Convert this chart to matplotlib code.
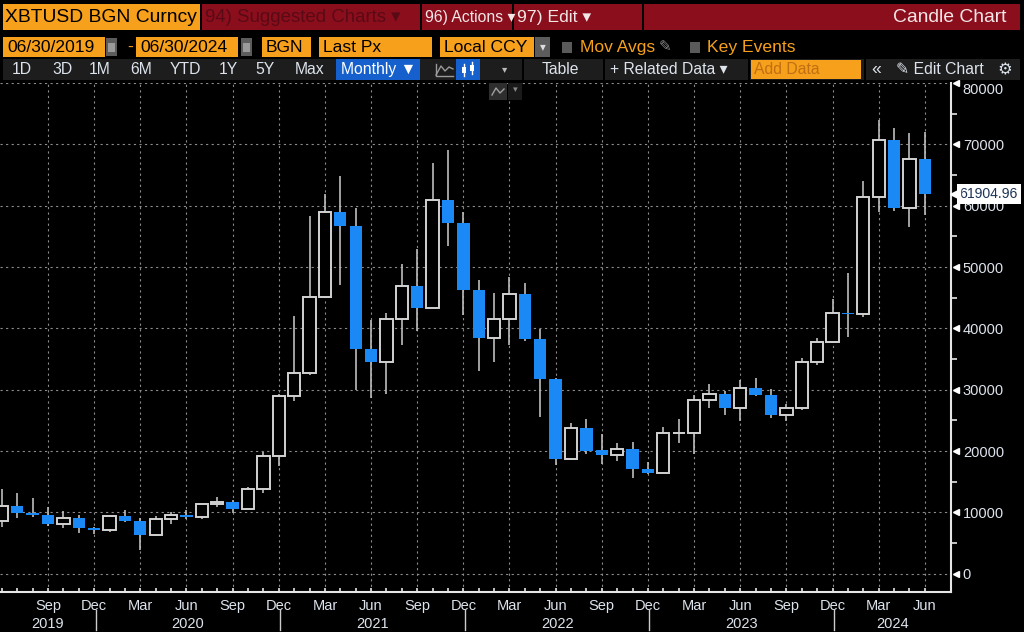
import matplotlib
matplotlib.use('Agg')
import matplotlib.pyplot as plt
import matplotlib.transforms as mtransforms
from matplotlib import font_manager
from matplotlib.patches import Rectangle
from matplotlib.lines import Line2D
import numpy as np
import pandas as pd

# monthly candles, XBTUSD BGN Curncy, 06/2019 - 06/2024
months = pd.period_range('2019-06', '2024-06', freq='M')
opens = [8600, 11100, 9950, 9550, 8050, 9170, 7450, 7100, 9380, 8650, 6300,
         8850, 9550, 9200, 11350, 11700, 10600, 13800, 19250, 28950, 32650,
         45150, 58900, 56650, 36650, 34500, 41450, 46950, 43400, 61000, 57100,
         46200, 38400, 41600, 45650, 38200, 31700, 18700, 23750, 20150, 19300,
         20400, 17000, 16450, 22900, 22950, 28400, 29250, 27050, 30300, 29150,
         25950, 27050, 34550, 37750, 42550, 42300, 61350, 70700, 59700, 67550]
highs = [13780, 13180, 12300, 10900, 10300, 9540, 7700, 9580, 10470, 9150, 9400,
         10080, 10400, 11400, 12450, 12100, 14100, 19850, 29300, 42050, 58300,
         61900, 64900, 59550, 41350, 42450, 50450, 52900, 67000, 69000, 59000,
         47900, 45700, 48400, 47350, 39850, 31950, 24650, 25200, 22850, 21250,
         21500, 18250, 23950, 25150, 29150, 31000, 29800, 31650, 31850, 30200,
         27750, 35100, 38450, 44850, 49000, 64050, 73950, 72600, 71900, 71950]
lows = [7580, 9100, 9260, 7750, 7400, 6660, 6440, 6870, 8450, 3830, 6150,
        8190, 9000, 8950, 10950, 9850, 10400, 13200, 17550, 28150, 32350,
        45000, 47050, 29900, 28600, 29300, 37300, 39600, 43300, 53400, 42150,
        33100, 34450, 37250, 37950, 25500, 17700, 18600, 19600, 17950, 18350,
        15550, 16300, 16450, 21350, 19500, 27050, 25950, 24850, 28950, 25400,
        24850, 26650, 34100, 37600, 38550, 41900, 59000, 59150, 56550, 58450]
closes = [11100, 9950, 9550, 8050, 9170, 7450, 7100, 9380, 8650, 6300, 8850,
          9550, 9200, 11350, 11700, 10600, 13800, 19250, 28950, 32650, 45150,
          58900, 56650, 36650, 34500, 41450, 46950, 43400, 61000, 57100, 46200,
          38400, 41600, 45650, 38200, 31700, 18700, 23750, 20050, 19300, 20400,
          17000, 16450, 22900, 22950, 28400, 29250, 27050, 30300, 29150, 25950,
          27050, 34550, 37750, 42550, 42300, 61350, 70700, 59700, 67550, 61904.96]
last_px = '61904.96'
y_ticks = list(range(0, 80001, 10000))

W, H = 1024, 632
ORANGE = '#f6a01c'
RED = '#8b0e1d'
TXT = '#dde3ec'

# Bloomberg uses a narrow face; use it if present, else shrink plain Liberation Sans
have = {f.name for f in font_manager.fontManager.ttflist}
if 'Liberation Sans Narrow' in have:
    NARROW = ['Liberation Sans Narrow', 'DejaVu Sans']
    K = 1.0
else:
    NARROW = ['Liberation Sans', 'DejaVu Sans']
    K = 0.84

plt.rcParams['font.family'] = NARROW
fig = plt.figure(figsize=(W / 100, H / 100), dpi=100, facecolor='black')


def box(x0, y0, x1, y1, color, z=1):
    fig.add_artist(Rectangle((x0 / W, 1 - y1 / H), (x1 - x0) / W, (y1 - y0) / H,
                             transform=fig.transFigure, facecolor=color,
                             edgecolor='none', zorder=z))


def label(x, y, s, color, size, ha='left'):
    fig.text(x / W, 1 - y / H, s, color=color, fontsize=size * K, ha=ha, va='center',
             family=NARROW, zorder=8)


def line(xs, ys, color, lw=1.2, z=7):
    fig.add_artist(Line2D([x / W for x in xs], [1 - y / H for y in ys],
                          transform=fig.transFigure, color=color, lw=lw, zorder=z))


# ---- header row 1
box(3, 4, 200, 30, ORANGE)
label(5, 17.5, 'XBTUSD BGN Curncy', 'black', 16.5)
box(202, 4, 420, 30, RED)
label(205, 17.5, '94) Suggested Charts \u25be', '#5a0a14', 16)
box(422, 4, 512, 30, RED)
label(425, 17.5, '96) Actions \u25be', '#f2e6e6', 13.5)
box(514, 4, 642, 30, RED)
label(517, 17.5, '97) Edit \u25be', '#f2e6e6', 15)
box(644, 4, 1020, 30, RED)
label(1006, 17.5, 'Candle Chart', '#f2e6e6', 16.5, ha='right')

# ---- header row 2
for x0, x1, s in [(3, 105, '06/30/2019'), (136, 238, '06/30/2024'),
                  (262, 311, 'BGN'), (319, 432, 'Last Px'), (440, 534, 'Local CCY')]:
    box(x0, 37, x1, 57, ORANGE)
    label(x0 + 4, 47.5, s, 'black', 15)
for x0 in (106, 241):
    box(x0, 38, x0 + 11, 56, '#5c5c5c')
    box(x0 + 2, 43, x0 + 9, 52, '#9a9a9a')
label(127, 47.5, '-', ORANGE, 15)
box(535, 37, 550, 57, '#5c5c5c')
label(542.5, 47.5, '\u25be', '#dddddd', 10, ha='center')
box(562, 42, 572, 53, '#5a5a5a')
label(580, 47.5, 'Mov Avgs', ORANGE, 15)
label(665, 47.5, '\u270e', '#8a8a8a', 13, ha='center')
box(690, 42, 700, 53, '#5a5a5a')
label(707, 47.5, 'Key Events', ORANGE, 15)

# ---- header row 3 (toolbar)
box(3, 59, 1020, 80, '#1d1d1d')
for x in (522, 603, 748, 864):
    box(x, 59, x + 2, 80, 'black', z=2)
for x, s in [(22, '1D'), (62, '3D'), (100, '1M'), (141, '6M'), (185, 'YTD'),
             (228, '1Y'), (265, '5Y'), (310, 'Max')]:
    label(x, 69.5, s, TXT, 13.5, ha='center')
box(336, 59, 420, 80, '#1560cc', z=2)
label(341, 69.5, 'Monthly \u25bc', 'white', 13.5)
line([436, 441, 445, 449, 453], [75, 66, 71, 67, 69], '#9a9a9a', 1)
line([436, 436, 453], [64, 76, 76], '#9a9a9a', 1)
box(456, 59, 480, 80, '#1560cc', z=2)
for x, y0, y1 in [(464, 64, 76), (472, 62, 74)]:
    line([x, x], [y0, y1], 'white', 1)
    box(x - 2, y0 + 3, x + 2, y1 - 3, 'white', z=6)
label(505, 69.5, '\u25be', '#bbbbbb', 9, ha='center')
label(560, 69.5, 'Table', TXT, 13.5, ha='center')
label(610, 69.5, '+ Related Data \u25be', TXT, 13.5)
box(751, 60, 861, 79, ORANGE, z=2)
label(754, 69.5, 'Add Data', '#c06f12', 13.5)
label(876, 69.5, '\u00ab', TXT, 15, ha='center')
label(896, 69.5, '\u270e Edit Chart', TXT, 13.5)
label(1005, 69.5, '\u2699', TXT, 14, ha='center')

# small chart-type widget on top of the plot
box(489, 83, 507, 100, '#2e2e2e', z=6)
line([492, 496, 500, 504], [95, 88, 93, 89], '#a0a0a0', 1, z=7)
box(508, 83, 522, 100, '#1a1a1a', z=6)
label(515, 90, '\u25be', '#888888', 8, ha='center')

# ---- chart
ax = fig.add_axes([0, 40 / H, 951 / W, (592 - 83) / H])
ax.set_facecolor('black')
x = np.arange(len(months))
o = np.array(opens, dtype=float)
c = np.array(closes, dtype=float)
up = c >= o

ax.vlines(x, lows, highs, color='#bdbdbd', lw=1.2, zorder=2)
body = np.where(np.abs(c - o) < 60, 60, np.abs(c - o))
ax.bar(x[up], body[up], bottom=o[up], width=0.8, facecolor='black',
       edgecolor='#d2d2d2', lw=1.4, zorder=3)
ax.bar(x[~up], body[~up], bottom=c[~up], width=0.8, facecolor='#1a88f5',
       edgecolor='none', zorder=3)

ax.set_xlim(-0.12, 61.7)
ax.set_ylim(-2970, 80000)

quarter = [i for i, m in enumerate(months) if m.month in (3, 6, 9, 12) and i > 0]
ax.set_xticks(quarter)
ax.set_xticklabels([months[i].strftime('%b') for i in quarter])
ax.set_xticks(x, minor=True)
ax.set_yticks(y_ticks)
ax.set_yticks(range(5000, 80000, 10000), minor=True)
ax.grid(True, which='major', color='#8a8a8a', ls=(0, (2, 3)), lw=0.8)
ax.set_axisbelow(True)

for s in ('top', 'left'):
    ax.spines[s].set_visible(False)
ax.spines['bottom'].set_color('#e6e6e6')
ax.spines['bottom'].set_linewidth(1.5)
ax.spines['right'].set_color('#e6e6e6')
ax.spines['right'].set_linewidth(1.5)

ax.yaxis.tick_right()
ax.tick_params(axis='y', which='major', length=0, pad=8.5, labelcolor=TXT,
               labelsize=12.5 * K)
ax.tick_params(axis='y', which='minor', length=4, width=1.2, color='#e6e6e6',
               direction='out')
ax.tick_params(axis='x', which='both', direction='in', length=3, width=1.2,
               color='#e6e6e6', labelcolor=TXT, labelsize=12.5 * K, pad=5)
ax.get_yticklabels()[-1].set_verticalalignment('top')

# flag markers on the price axis
tr_y = mtransforms.blended_transform_factory(ax.transAxes, ax.transData)
ax.plot([1.005] * len(y_ticks), y_ticks, ls='none', marker='<', ms=5,
        color='white', transform=tr_y, clip_on=False, zorder=5)

# last price tag
ax.text(1.009, closes[-1], last_px, transform=tr_y, ha='left', va='center',
        fontsize=12 * K, color='#1d3357', clip_on=False, zorder=6,
        bbox=dict(boxstyle='square,pad=0.2', fc='white', ec='none'))
ax.plot([1.004], [closes[-1]], marker='<', ms=7, color='white',
        transform=tr_y, clip_on=False, zorder=6)

# year separators and labels
tr_x = mtransforms.blended_transform_factory(ax.transData, ax.transAxes)
x0, x1 = ax.get_xlim()
seps = [i + 0.1 for i, m in enumerate(months) if m.month == 12]
for s in seps:
    ax.plot([s, s], [-0.035, -0.075], color='#cccccc', lw=1, transform=tr_x,
            clip_on=False)
edges = [x0] + seps + [x1]
years = sorted(set(m.year for m in months))
for yr, a, b in zip(years, edges[:-1], edges[1:]):
    ax.text((a + b) / 2, -0.062, str(yr), transform=tr_x, ha='center', va='center',
            fontsize=12.5 * K, color=TXT, clip_on=False)

fig.savefig('out.png', dpi=100, facecolor='black')
